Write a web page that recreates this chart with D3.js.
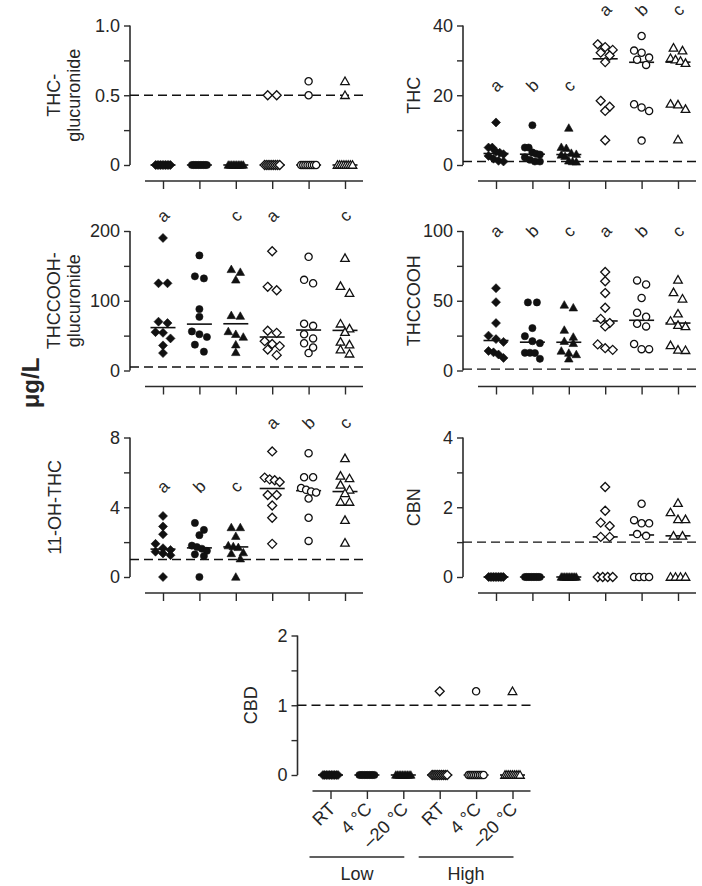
<!DOCTYPE html>
<html>
<head>
<meta charset="utf-8">
<script src="https://cdn.jsdelivr.net/npm/d3@7"></script>
<style>
  html, body { margin: 0; padding: 0; background: #fff; }
  svg { display: block; }
  text { font-family: "Liberation Sans", Arial, Helvetica, sans-serif; fill: #262626; }
</style>
</head>
<body>
<svg id="chart" width="702" height="886"></svg>
<script>
// ---------------- DATA ----------------
const categories = ["RT", "4 °C", "–20 °C", "RT", "4 °C", "–20 °C"];
const groupNames = ["Low", "High"];
const unitLabel = "μg/L";

// each array: 6 groups (Low RT, Low 4, Low -20, High RT, High 4, High -20), 10 samples each
const thcGlucuronide = [
  [0, 0, 0, 0, 0, 0, 0, 0, 0, 0],
  [0, 0, 0, 0, 0, 0, 0, 0, 0, 0],
  [0, 0, 0, 0, 0, 0, 0, 0, 0, 0],
  [0.5, 0.5, 0, 0, 0, 0, 0, 0, 0, 0],
  [0.6, 0.5, 0, 0, 0, 0, 0, 0, 0, 0],
  [0.6, 0.5, 0, 0, 0, 0, 0, 0, 0, 0]
];
const thc = [
  [12.2, 5.0, 5.0, 3.8, 3.5, 3.1, 2.6, 1.8, 1.2, 1.0],
  [11.4, 5.0, 5.0, 3.6, 3.2, 3.0, 2.2, 1.5, 1.0, 1.0],
  [10.6, 5.1, 4.8, 3.4, 3.1, 2.9, 2.5, 1.2, 1.0, 0.9],
  [34.6, 33.8, 33.0, 32.2, 31.4, 29.5, 18.4, 16.7, 15.5, 7.1],
  [37.0, 32.8, 32.2, 30.8, 30.2, 28.7, 17.4, 16.5, 15.5, 7.0],
  [33.6, 32.8, 30.6, 30.2, 29.8, 29.2, 17.5, 17.3, 16.0, 7.3]
];
const thccoohGlucuronide = [
  [190, 125, 125, 70, 68, 55, 54, 46, 36, 25],
  [165, 135, 132, 88, 77, 56, 52, 48, 37, 27],
  [145, 141, 130, 79, 78, 56, 52, 48, 37, 26],
  [171, 120, 115, 57, 54, 42, 38, 35, 30, 22],
  [163, 130, 125, 67, 64, 52, 46, 39, 33, 25],
  [161, 121, 111, 67, 60, 55, 41, 37, 30, 24]
];
const thccooh = [
  [59, 49, 34, 25, 22.5, 20.5, 14, 13, 11.5, 9],
  [48.8, 48.8, 30.4, 24.6, 21, 19.6, 12.7, 12.7, 12.5, 8.4],
  [47, 45, 29, 24, 21, 19.5, 14, 12.5, 11.5, 8.4],
  [70.6, 64, 55.5, 45, 37, 34, 31.6, 18.7, 16, 14.8],
  [64.6, 61.7, 52, 41.4, 38.5, 33.5, 31.6, 19, 15.3, 15.3],
  [65, 56, 51.4, 40.7, 35.5, 32.5, 31.6, 18, 14.8, 14.5]
];
const ohThc = [
  [3.5, 2.9, 2.45, 1.9, 1.65, 1.55, 1.45, 1.35, 1.25, 0],
  [3.1, 2.7, 2.4, 1.8, 1.72, 1.62, 1.5, 1.3, 1.2, 0],
  [2.84, 2.84, 2.34, 1.8, 1.75, 1.7, 1.4, 1.35, 1.05, 0],
  [7.2, 5.7, 5.6, 5.55, 5.45, 4.7, 4.7, 4.1, 3.4, 1.9],
  [7.1, 5.72, 5.72, 5.1, 5.0, 4.9, 4.85, 4.5, 3.4, 2.07],
  [6.8, 5.8, 5.65, 5.28, 5.0, 4.8, 4.3, 4.3, 3.26, 1.96]
];
const cbn = [
  [0, 0, 0, 0, 0, 0, 0, 0, 0, 0],
  [0, 0, 0, 0, 0, 0, 0, 0, 0, 0],
  [0, 0, 0, 0, 0, 0, 0, 0, 0, 0],
  [2.58, 1.9, 1.56, 1.46, 1.15, 1.15, 0, 0, 0, 0],
  [2.1, 1.63, 1.54, 1.54, 1.23, 1.18, 0, 0, 0, 0],
  [2.12, 1.85, 1.65, 1.65, 1.18, 1.18, 0, 0, 0, 0]
];
const cbd = [
  [0, 0, 0, 0, 0, 0, 0, 0, 0, 0],
  [0, 0, 0, 0, 0, 0, 0, 0, 0, 0],
  [0, 0, 0, 0, 0, 0, 0, 0, 0, 0],
  [1.2, 0, 0, 0, 0, 0, 0, 0, 0, 0],
  [1.2, 0, 0, 0, 0, 0, 0, 0, 0, 0],
  [1.2, 0, 0, 0, 0, 0, 0, 0, 0, 0]
];

// detection limits (dashed lines)
const loqValues = [0.5, 1, 5, 1, 1, 1, 1];

// y-axis ticks
const ticksThcGluc = [0, 0.5, 1.0];   const labelsThcGluc = ["0", "0.5", "1.0"];
const ticksThc = [0, 20, 40];         const labelsThc = ["0", "20", "40"];
const ticksThccoohGluc = [0, 100, 200]; const labelsThccoohGluc = ["0", "100", "200"];
const ticksThccooh = [0, 50, 100];    const labelsThccooh = ["0", "50", "100"];
const ticksOhThc = [0, 4, 8];         const labelsOhThc = ["0", "4", "8"];
const ticksCbn = [0, 2, 4];           const labelsCbn = ["0", "2", "4"];
const ticksCbd = [0, 1, 2];           const labelsCbd = ["0", "1", "2"];

// significance letters: [group index, letter, value height]
const lettersThc = [[0, "a", 22.8], [1, "b", 22.8], [2, "c", 22.8], [3, "a", 44.5], [4, "b", 44.5], [5, "c", 44.5]];
const lettersThccoohGluc = [[0, "a", 222], [2, "c", 222], [3, "a", 222], [5, "c", 222]];
const lettersThccooh = [[0, "a", 100], [1, "b", 100], [2, "c", 100], [3, "a", 100], [4, "b", 100], [5, "c", 100]];
const lettersOhThc = [[0, "a", 5.2], [1, "b", 5.2], [2, "c", 5.2], [3, "a", 8.85], [4, "b", 8.85], [5, "c", 8.85]];

// ---------------- LAYOUT ----------------
const svg = d3.select("#chart");
const PH = 139.5;        // plot height
const XOFF = 16;         // x-axis offset below zero

const panels = [
  { title: ["THC-", "glucuronide"], data: thcGlucuronide, ticks: ticksThcGluc, labels: labelsThcGluc, loq: loqValues[0], ax: 130, top: 25.5, titleX: -66, letters: [] },
  { title: ["THC"], data: thc, ticks: ticksThc, labels: labelsThc, loq: loqValues[1], ax: 463, top: 25.5, titleX: -49, letters: lettersThc },
  { title: ["THCCOOH-", "glucuronide"], data: thccoohGlucuronide, ticks: ticksThccoohGluc, labels: labelsThccoohGluc, loq: loqValues[2], ax: 130, top: 231, titleX: -66, letters: lettersThccoohGluc },
  { title: ["THCCOOH"], data: thccooh, ticks: ticksThccooh, labels: labelsThccooh, loq: loqValues[3], ax: 463, top: 231, titleX: -49, letters: lettersThccooh },
  { title: ["11-OH-THC"], data: ohThc, ticks: ticksOhThc, labels: labelsOhThc, loq: loqValues[4], ax: 130, top: 437.5, titleX: -75, letters: lettersOhThc },
  { title: ["CBN"], data: cbn, ticks: ticksCbn, labels: labelsCbn, loq: loqValues[5], ax: 463, top: 437.5, titleX: -49, letters: [] },
  { title: ["CBD"], data: cbd, ticks: ticksCbd, labels: labelsCbd, loq: loqValues[6], ax: 297.5, top: 635.5, titleX: -47, letters: [], xLabels: true }
];

const INK = "#111";
const AXIS = "#2b2b2b";

const shapes = {
  diamond: r => `M0,${-r}L${r},0L0,${r}L${-r},0Z`,
  circle: r => d3.arc()({ innerRadius: 0, outerRadius: r * 0.8, startAngle: 0, endAngle: 2 * Math.PI }),
  triangle: r => `M0,${-r * 0.95}L${r * 0.95},${r * 0.72}L${-r * 0.95},${r * 0.72}Z`
};
const shapeOf = ["diamond", "circle", "triangle", "diamond", "circle", "triangle"];

function placePoints(values, y, cx) {
  const pts = values.map(v => ({ v, y: y(v) })).sort((a, b) => a.y - b.y);
  const bins = []; let cur = null;
  for (const p of pts) {
    if (cur && p.y - cur.start < 7) cur.items.push(p);
    else { cur = { start: p.y, items: [p] }; bins.push(cur); }
  }
  bins.forEach(b => {
    const k = b.items.length;
    const S = k === 1 ? 0 : Math.min(9, 15 / (k - 1));
    b.items.forEach((p, i) => { p.x = cx + (i - (k - 1) / 2) * S; });
  });
  return pts;
}

panels.forEach(p => {
  const g = svg.append("g");
  const y = d3.scaleLinear().domain([p.ticks[0], p.ticks[p.ticks.length - 1]]).range([p.top + PH, p.top]);
  const x = d3.scalePoint().domain(d3.range(6)).range([p.ax + 33, p.ax + 215]);
  const y0 = y(0);
  const xAxisY = y0 + XOFF;

  // y axis
  const minor = d3.range(p.ticks.length - 1).map(i => (p.ticks[i] + p.ticks[i + 1]) / 2);
  const yAxis = d3.axisLeft(y).tickValues(p.ticks.concat(minor)).tickSize(6).tickPadding(4)
    .tickFormat(d => { const i = p.ticks.indexOf(d); return i >= 0 ? p.labels[i] : ""; });
  const ya = g.append("g").attr("transform", `translate(${p.ax},0)`).call(yAxis);
  ya.select(".domain").attr("stroke", AXIS).attr("stroke-width", 1.6).attr("d", `M-0,${p.top}V${y0}`);
  ya.selectAll(".tick line").attr("stroke", AXIS).attr("stroke-width", 1.4);
  ya.selectAll(".tick text").attr("font-size", 18).attr("fill", "#262626")
    .attr("font-family", "Liberation Sans, Arial, sans-serif");

  // x axis
  const xAxis = d3.axisBottom(x).tickSize(8).tickFormat("");
  const xa = g.append("g").attr("transform", `translate(0,${xAxisY})`).call(xAxis);
  xa.select(".domain").attr("stroke", AXIS).attr("stroke-width", 1.6).attr("d", `M${p.ax + 15},0H${p.ax + 233}`);
  xa.selectAll(".tick line").attr("stroke", AXIS).attr("stroke-width", 1.4);

  // LOQ dashed line
  g.append("line").attr("x1", p.ax).attr("x2", p.ax + 234)
    .attr("y1", y(p.loq)).attr("y2", y(p.loq))
    .attr("stroke", INK).attr("stroke-width", 1.4).attr("stroke-dasharray", "9,5");

  // title
  const tg = g.append("g").attr("transform", `translate(${p.ax + p.titleX},${p.top + PH / 2}) rotate(-90)`);
  const n = p.title.length;
  p.title.forEach((t, i) => {
    tg.append("text").attr("x", 0).attr("y", (i - (n - 1) / 2) * 20).attr("dy", "0.35em")
      .attr("text-anchor", "middle").attr("font-size", 18).text(t);
  });

  // points & medians
  p.data.forEach((vals, gi) => {
    const cx = x(gi);
    const filled = gi < 3;
    const pts = placePoints(vals, y, cx);
    const med = d3.median(vals);
    g.append("line").attr("x1", cx - 12.5).attr("x2", cx + 12.5).attr("y1", y(med)).attr("y2", y(med))
      .attr("stroke", INK).attr("stroke-width", 1.6);
    g.selectAll(null).data(pts).enter().append("path")
      .attr("d", shapes[shapeOf[gi]](4.5))
      .attr("transform", d => `translate(${d.x},${d.y})`)
      .attr("fill", filled ? INK : "#fff")
      .attr("stroke", INK)
      .attr("stroke-width", filled ? 0.6 : 1.3);
  });

  // letters
  p.letters.forEach(([gi, L, v]) => {
    g.append("text").attr("transform", `translate(${x(gi)},${y(v)}) rotate(-45)`)
      .attr("text-anchor", "middle").attr("dy", "0.35em")
      .attr("font-size", 17).attr("fill", "#555").text(L);
  });

  // category labels & group brackets
  if (p.xLabels) {
    categories.forEach((c, i) => {
      g.append("text").attr("transform", `translate(${x(i) + 6},${xAxisY + 19}) rotate(-45)`)
        .attr("text-anchor", "end").attr("font-size", 18).text(c);
    });
    groupNames.forEach((gn, k) => {
      const x1 = x(k * 3) - 21, x2 = x(k * 3 + 2) + 1;
      g.append("line").attr("x1", x1).attr("x2", x2).attr("y1", xAxisY + 66).attr("y2", xAxisY + 66)
        .attr("stroke", AXIS).attr("stroke-width", 1.6);
      g.append("text").attr("x", (x1 + x2) / 2).attr("y", xAxisY + 89).attr("text-anchor", "middle")
        .attr("font-size", 18).text(gn);
    });
  }
});

// shared unit label
svg.append("text").attr("transform", "translate(31,383) rotate(-90)")
  .attr("text-anchor", "middle").attr("dy", "0.35em")
  .attr("font-size", 24).attr("font-weight", "bold").text(unitLabel);
</script>
</body>
</html>
